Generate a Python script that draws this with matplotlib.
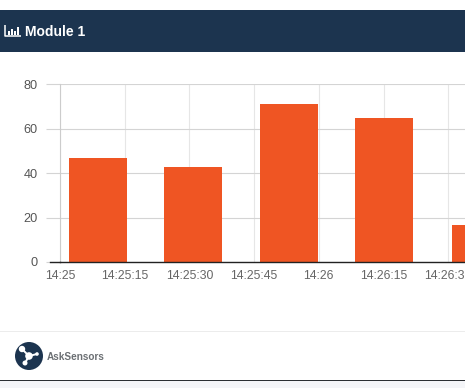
import matplotlib
matplotlib.use('Agg')
import matplotlib.pyplot as plt
from matplotlib.patches import Circle, Rectangle

plt.rcParams['font.family'] = ['Liberation Sans', 'DejaVu Sans']

W, H = 465, 388

# seconds after 14:25
bar_secs = [8.85, 30.9, 53.1, 75.2, 97.6]
bar_vals = [46.6, 42.6, 70.8, 64.5, 16.6]
tick_secs = [0, 15, 30, 45, 60, 75, 90]
tick_labels = ['14:25', '14:25:15', '14:25:30', '14:25:45', '14:26', '14:26:15', '14:26:30']
y_ticks = [0, 20, 40, 60, 80]

fig = plt.figure(figsize=(W / 100, H / 100), dpi=100, facecolor='white')

# page furniture drawn in pixel coords
bg = fig.add_axes([0, 0, 1, 1])
bg.set_xlim(0, W); bg.set_ylim(H, 0); bg.axis('off')
bg.add_patch(Rectangle((0, 10), W, 42, color='#1c344f', lw=0))
bg.add_patch(Rectangle((0, 331), W, 1, color='#ececec', lw=0))
bg.add_patch(Rectangle((0, 380), W, 1, color='#2b2f33', lw=0))
bg.add_patch(Rectangle((0, 381), W, 7, color='#f4f5f8', lw=0))

# chart icon in the header
bg.plot([5, 5, 21], [25, 36, 36], color='white', lw=1.1, solid_capstyle='butt')
for bx, bh in zip([8, 11, 14, 17], [4, 6, 3.5, 8]):
    bg.add_patch(Rectangle((bx, 34.5 - bh), 2, bh, color='white', lw=0))
bg.text(25, 32, 'Module 1', color='white', fontsize=10, fontweight='bold', va='center', ha='left')

# logo
bg.add_patch(Circle((29, 356), 14, color='#1c344f', lw=0))
bg.plot([22, 29, 37], [349, 356, 354], color='white', lw=1.4)
bg.plot([29, 25], [356, 363], color='white', lw=1.4)
for cx, cy, r in [(22, 349, 3.2), (29, 356, 3.8), (37, 354, 1.8), (25, 363, 2.5)]:
    bg.add_patch(Circle((cx, cy), r, color='white', lw=0))
bg.text(47, 356.5, 'AskSensors', color='#6b6f73', fontsize=7.2, fontweight='bold', va='center', ha='left')

# chart, axes span px x 60-465, y 84-262
ax = fig.add_axes([60 / W, 1 - 262 / H, 405 / W, 178 / H], facecolor='none')
ax.bar(bar_secs, bar_vals, width=13.5, color='#ef5523', zorder=3)
ax.set_xlim(0, 405 / 64.7 * 15)
ax.set_ylim(0, 80)
ax.set_xticks(tick_secs)
ax.set_xticklabels(tick_labels)
ax.set_yticks(y_ticks)
ax.grid(True, axis='y', color='#d4d4d4', lw=0.8, zorder=0)
ax.grid(True, axis='x', color='#e6e6e6', lw=0.8, zorder=0)
ax.set_axisbelow(True)
for s in ['top', 'right']:
    ax.spines[s].set_visible(False)
ax.spines['left'].set_color('#cccccc')
ax.spines['left'].set_linewidth(0.8)
ax.spines['bottom'].set_color('#222222')
ax.spines['bottom'].set_linewidth(1)
ax.spines['bottom'].set_zorder(5)
ax.tick_params(axis='y', length=10, width=0.8, color='#d4d4d4', labelcolor='#555555', labelsize=9.2, pad=6)
ax.tick_params(axis='x', length=0, labelcolor='#666666', labelsize=8.8, pad=6)
# base line reaches past the axis like the tick marks do
ax.plot([-10 / 64.7 * 15, 0], [0, 0], color='#222222', lw=1, clip_on=False, zorder=5)

fig.savefig('out.png', dpi=100)
plt.close(fig)
